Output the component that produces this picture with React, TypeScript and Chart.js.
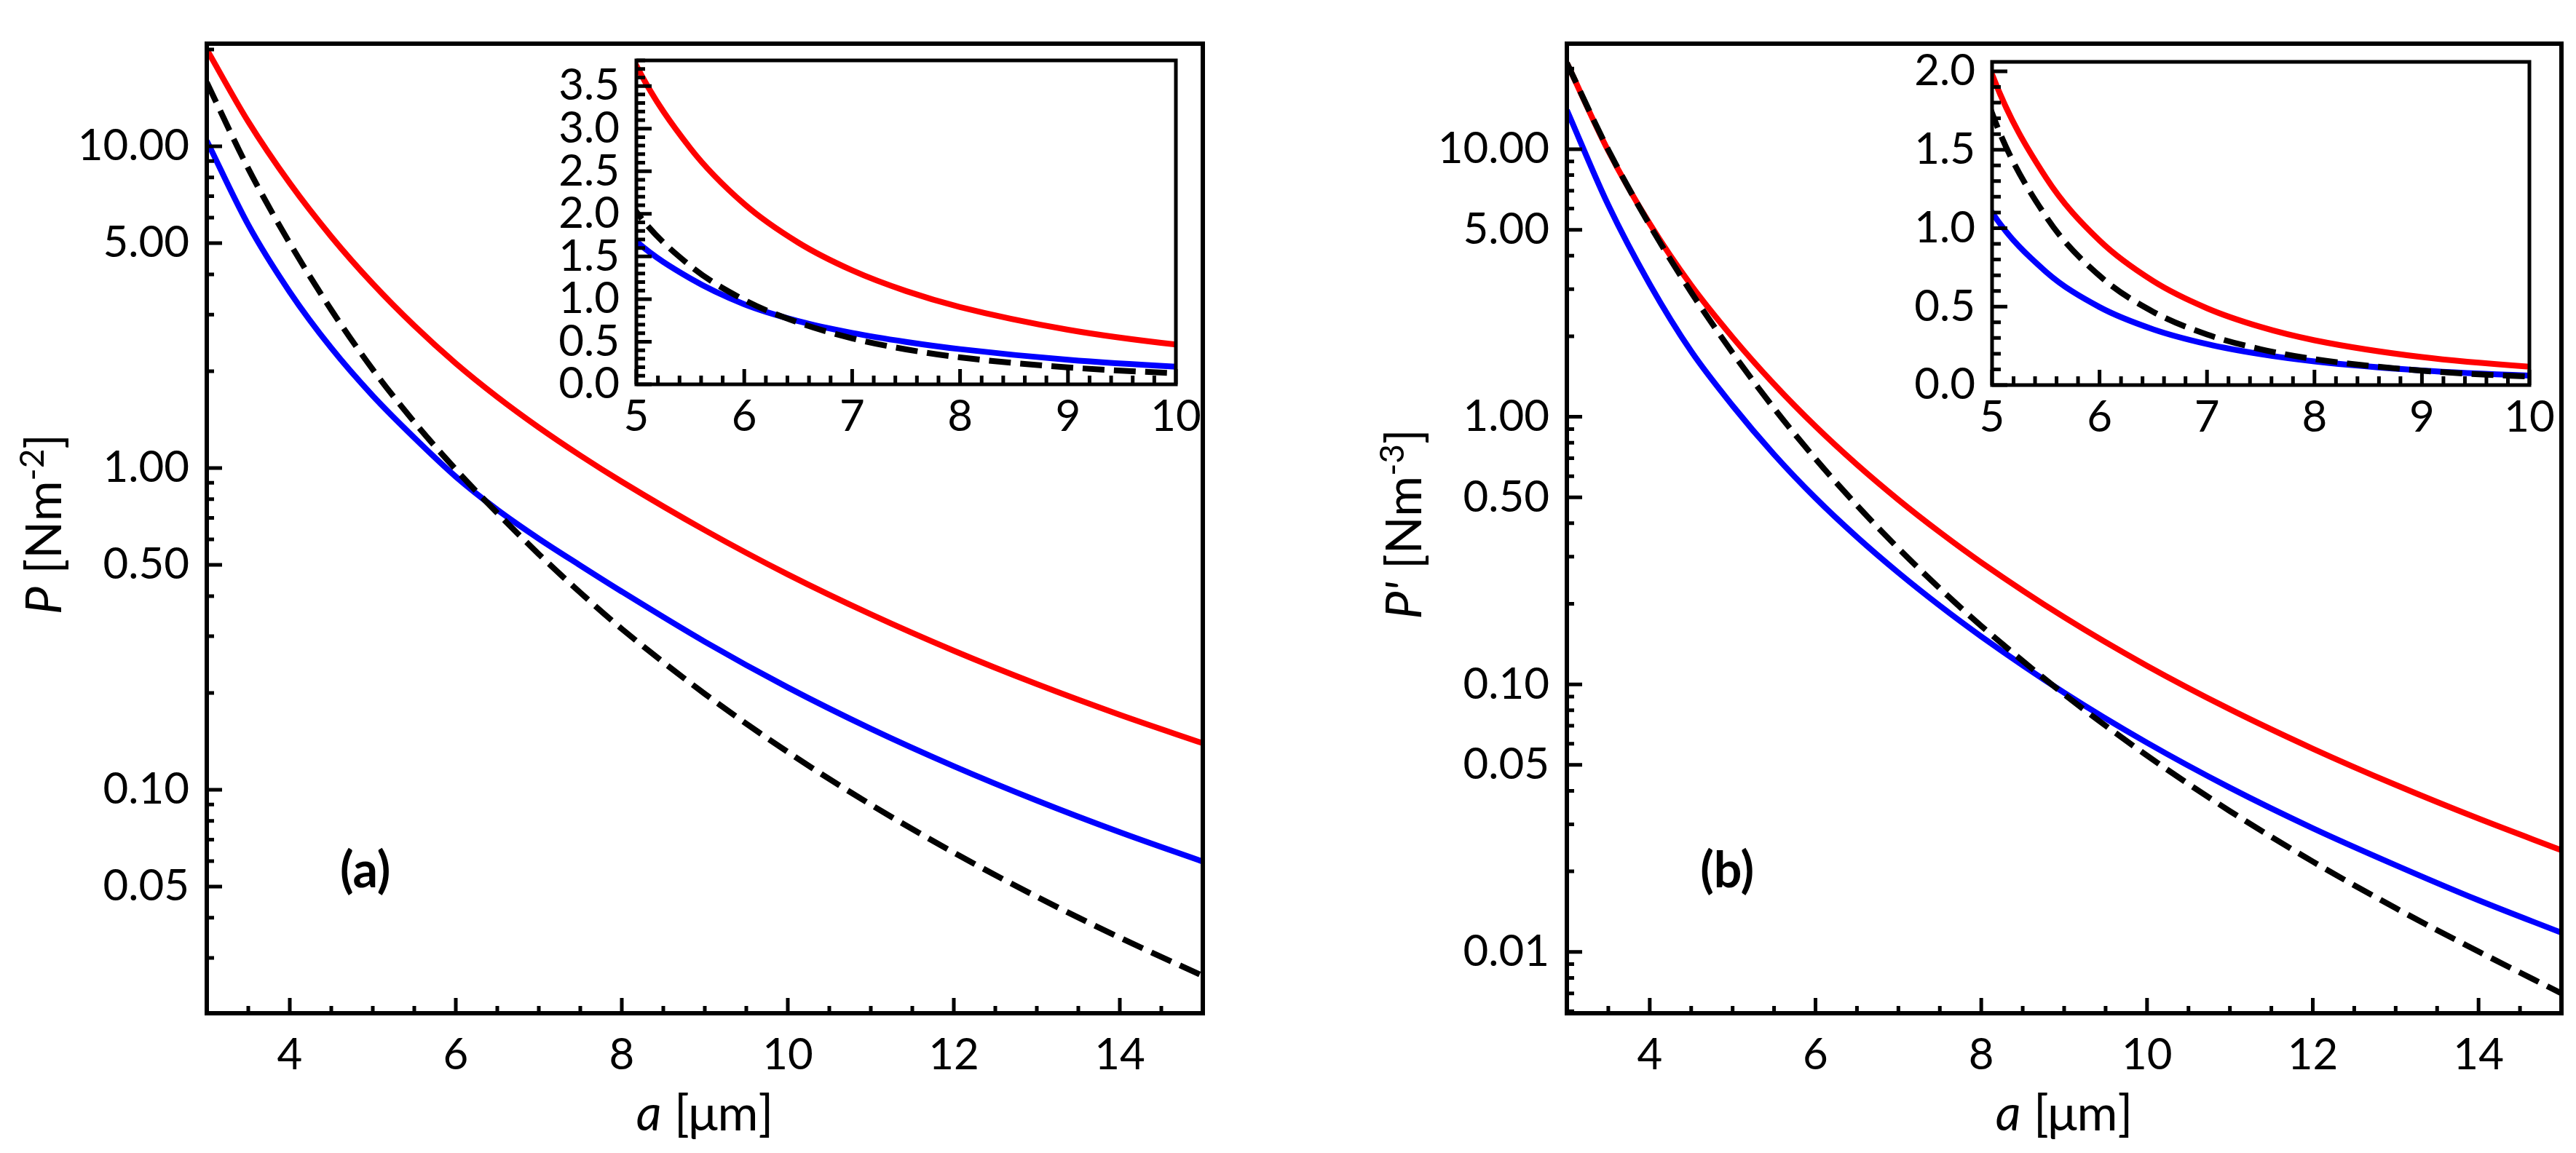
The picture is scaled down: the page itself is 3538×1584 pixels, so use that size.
import React, { useEffect, useRef } from "react";
import { Chart, registerables } from "chart.js";
Chart.register(...registerables);

// ---------- data ----------
const aValues = [3, 3.5, 4, 4.5, 5, 5.5, 6, 6.5, 7, 7.5, 8, 9, 10, 11, 12, 13, 14, 15];

const redA = [20, 11.93, 7.68, 5.24, 3.74, 2.77, 2.115, 1.663, 1.337, 1.094, 0.907, 0.641, 0.467, 0.351, 0.2704, 0.213, 0.171, 0.1395];
const blueA = [10.4, 5.7, 3.525, 2.361, 1.677, 1.242, 0.94, 0.742, 0.603, 0.498, 0.413, 0.2885, 0.208, 0.1548, 0.1184, 0.0926, 0.0738, 0.0598];
const blackA = [15.8, 8.53, 5.0, 3.102, 2.025, 1.39, 0.99, 0.725, 0.54, 0.41, 0.3163, 0.1987, 0.131, 0.0899, 0.0638, 0.0465, 0.0347, 0.0264];

const redB = [21, 9.86, 5.265, 3.1, 1.98, 1.324, 0.921, 0.6625, 0.4896, 0.3703, 0.2855, 0.1782, 0.1173, 0.0807, 0.0575, 0.0421, 0.0315, 0.024];
const blueB = [14.0, 6.18, 3.13, 1.757, 1.1, 0.723, 0.497, 0.3553, 0.2614, 0.1967, 0.151, 0.0931, 0.0605, 0.0411, 0.029, 0.0211, 0.0156, 0.0118];
const blackB = [21, 9.94, 5.2, 2.92, 1.733, 1.076, 0.6966, 0.4668, 0.3222, 0.2283, 0.1653, 0.0918, 0.0542, 0.0336, 0.02176, 0.01458, 0.01003, 0.007];

const mainXTicks = [4, 6, 8, 10, 12, 14];
const yTicksA = [0.05, 0.1, 0.5, 1, 5, 10];
const yTicksB = [0.01, 0.05, 0.1, 0.5, 1, 5, 10];
const insetXTicks = [5, 6, 7, 8, 9, 10];
const insetYTicksA = [0, 0.5, 1, 1.5, 2, 2.5, 3, 3.5];
const insetYTicksB = [0, 0.5, 1, 1.5, 2];

// ---------- helpers ----------
const FONT = "Lato";

function linMinors(min: number, max: number, step: number, majors: number[]) {
  const out: number[] = [];
  const n = Math.round((max - min) / step);
  for (let i = 0; i <= n; i++) {
    const v = Math.round((min + i * step) * 1000) / 1000;
    if (!majors.some((m) => Math.abs(m - v) < 1e-6)) out.push(v);
  }
  return out;
}
function logMinors(min: number, max: number, majors: number[]) {
  const out: number[] = [];
  for (let e = -3; e <= 2; e++) {
    for (let m = 1; m <= 9; m++) {
      const v = m * Math.pow(10, e);
      if (v >= min && v <= max && !majors.some((q) => Math.abs(q - v) / v < 1e-6)) out.push(v);
    }
  }
  return out;
}

type Part = { t: string; font: string; rise: number };
function drawParts(ctx: CanvasRenderingContext2D, parts: Part[], px: number, py: number, rotated: boolean) {
  ctx.save();
  ctx.fillStyle = "#000";
  ctx.textBaseline = "alphabetic";
  ctx.textAlign = "left";
  let total = 0;
  const widths = parts.map((p) => {
    ctx.font = p.font;
    const w = ctx.measureText(p.t).width;
    total += w;
    return w;
  });
  ctx.translate(px, py);
  if (rotated) ctx.rotate(-Math.PI / 2);
  let x = -total / 2;
  parts.forEach((p, i) => {
    ctx.font = p.font;
    ctx.fillText(p.t, x, -p.rise);
    x += widths[i];
  });
  ctx.restore();
}

function makeDatasets(red: number[], blue: number[], black: number[]) {
  const mk = (ys: number[], color: string, dash: number[]) => ({
    data: aValues.map((x, i) => ({ x, y: ys[i] })),
    borderColor: color,
    borderWidth: 8,
    borderDash: dash,
    pointRadius: 0,
    fill: false,
    cubicInterpolationMode: "monotone" as const,
  });
  return [mk(black, "#000000", [30, 13]), mk(blue, "#0000ff", []), mk(red, "#ff0000", [])];
}

type FrameOpts = {
  xMajor: number[];
  xMinor: number[];
  yMajor: number[];
  yMinor: number[];
  majLen: number;
  minLen: number;
  border: number;
  fillWhite: boolean;
  extra?: (chart: any) => void;
};

function framePlugin(o: FrameOpts) {
  return {
    id: "frame",
    beforeDatasetsDraw(chart: any) {
      if (!o.fillWhite) return;
      const { ctx, chartArea: ca } = chart;
      ctx.save();
      ctx.fillStyle = "#fff";
      ctx.fillRect(ca.left, ca.top, ca.right - ca.left, ca.bottom - ca.top);
      ctx.restore();
    },
    afterDraw(chart: any) {
      const { ctx, chartArea: ca, scales } = chart;
      ctx.save();
      ctx.strokeStyle = "#000";
      ctx.lineWidth = 5;
      ctx.lineCap = "butt";
      ctx.beginPath();
      const xt = (v: number, len: number) => {
        const p = scales.x.getPixelForValue(v);
        ctx.moveTo(p, ca.bottom);
        ctx.lineTo(p, ca.bottom - len);
      };
      const yt = (v: number, len: number) => {
        const p = scales.y.getPixelForValue(v);
        ctx.moveTo(ca.left, p);
        ctx.lineTo(ca.left + len, p);
      };
      o.xMajor.forEach((v) => xt(v, o.majLen));
      o.xMinor.forEach((v) => xt(v, o.minLen));
      o.yMajor.forEach((v) => yt(v, o.majLen));
      o.yMinor.forEach((v) => yt(v, o.minLen));
      ctx.stroke();
      ctx.lineWidth = o.border;
      ctx.strokeRect(ca.left, ca.top, ca.right - ca.left, ca.bottom - ca.top);
      ctx.restore();
      if (o.extra) o.extra(chart);
    },
  };
}

function mainConfig(
  red: number[], blue: number[], black: number[],
  yMin: number, yMax: number, yTicks: number[], yWidth: number, padRight: number,
  yTitle: Part[], panel: string, panelX: number, panelY: number
) {
  return {
    type: "line" as const,
    data: { datasets: makeDatasets(red, blue, black) },
    options: {
      responsive: false,
      animation: false as const,
      devicePixelRatio: 1,
      events: [],
      layout: { padding: { top: 29, left: 0, right: padRight, bottom: 0 } },
      plugins: { legend: { display: false }, tooltip: { enabled: false }, title: { display: false } },
      scales: {
        x: {
          type: "linear" as const,
          min: 3,
          max: 15,
          grid: { display: false, drawTicks: false },
          border: { display: false },
          afterBuildTicks: (s: any) => {
            s.ticks = mainXTicks.map((v) => ({ value: v }));
          },
          afterFit: (s: any) => {
            s.height = 192;
          },
          ticks: {
            font: { size: 60, family: FONT },
            color: "#000",
            padding: 22,
            maxRotation: 0,
            minRotation: 0,
            autoSkip: false,
            callback: (v: any) => String(v),
          },
        },
        y: {
          type: "logarithmic" as const,
          min: yMin,
          max: yMax,
          grid: { display: false, drawTicks: false },
          border: { display: false },
          afterBuildTicks: (s: any) => {
            s.ticks = yTicks.map((v) => ({ value: v }));
          },
          afterFit: (s: any) => {
            s.width = yWidth;
          },
          ticks: {
            font: { size: 60, family: FONT },
            color: "#000",
            padding: 24,
            autoSkip: false,
            callback: (v: any) => Number(v).toFixed(2),
          },
        },
      },
    },
    plugins: [
      framePlugin({
        xMajor: mainXTicks,
        xMinor: linMinors(3.5, 14.5, 0.5, mainXTicks),
        yMajor: yTicks,
        yMinor: logMinors(yMin, yMax, yTicks),
        majLen: 21,
        minLen: 10,
        border: 6,
        fillWhite: false,
        extra: (chart: any) => {
          const { ctx, chartArea: ca, scales } = chart;
          drawParts(ctx, yTitle, ca.left - 200, 720, true);
          drawParts(
            ctx,
            [
              { t: "a", font: `italic 68px ${FONT}`, rise: 0 },
              { t: " [μm]", font: `68px ${FONT}`, rise: 0 },
            ],
            (ca.left + ca.right) / 2,
            1553,
            false
          );
          ctx.save();
          ctx.fillStyle = "#000";
          ctx.font = `bold 68px ${FONT}`;
          ctx.textAlign = "center";
          ctx.textBaseline = "alphabetic";
          ctx.fillText(panel, scales.x.getPixelForValue(panelX), scales.y.getPixelForValue(panelY));
          ctx.restore();
        },
      }),
    ],
  };
}

function insetConfig(red: number[], blue: number[], black: number[], yMax: number, yTicks: number[], padRight: number, xHeight: number) {
  return {
    type: "line" as const,
    data: { datasets: makeDatasets(red, blue, black) },
    options: {
      responsive: false,
      animation: false as const,
      devicePixelRatio: 1,
      events: [],
      layout: { padding: { top: 40, left: 0, right: padRight, bottom: 0 } },
      plugins: { legend: { display: false }, tooltip: { enabled: false }, title: { display: false } },
      scales: {
        x: {
          type: "linear" as const,
          min: 5,
          max: 10,
          grid: { display: false, drawTicks: false },
          border: { display: false },
          afterBuildTicks: (s: any) => {
            s.ticks = insetXTicks.map((v) => ({ value: v }));
          },
          afterFit: (s: any) => {
            s.height = xHeight;
          },
          ticks: {
            font: { size: 60, family: FONT },
            color: "#000",
            padding: 9,
            maxRotation: 0,
            minRotation: 0,
            autoSkip: false,
            callback: (v: any) => String(v),
          },
        },
        y: {
          type: "linear" as const,
          min: 0,
          max: yMax,
          grid: { display: false, drawTicks: false },
          border: { display: false },
          afterBuildTicks: (s: any) => {
            s.ticks = yTicks.map((v) => ({ value: v }));
          },
          afterFit: (s: any) => {
            s.width = 120;
          },
          ticks: {
            font: { size: 60, family: FONT },
            color: "#000",
            padding: 23,
            autoSkip: false,
            callback: (v: any) => Number(v).toFixed(1),
          },
        },
      },
    },
    plugins: [
      framePlugin({
        xMajor: insetXTicks,
        xMinor: linMinors(5, 10, 0.2, insetXTicks),
        yMajor: yTicks,
        yMinor: linMinors(0, Math.floor(yMax * 10) / 10, 0.1, yTicks),
        majLen: 21,
        minLen: 12,
        border: 5,
        fillWhite: true,
      }),
    ],
  };
}

export default function App() {
  const refA = useRef<HTMLCanvasElement>(null);
  const refB = useRef<HTMLCanvasElement>(null);
  const refIA = useRef<HTMLCanvasElement>(null);
  const refIB = useRef<HTMLCanvasElement>(null);

  useEffect(() => {
    document.body.style.margin = "0";
    Chart.defaults.font.family = FONT;
    Chart.defaults.color = "#000";
    const yTitleA: Part[] = [
      { t: "P", font: `italic 68px ${FONT}`, rise: 0 },
      { t: " [Nm", font: `68px ${FONT}`, rise: 0 },
      { t: "-2", font: `46px ${FONT}`, rise: 24 },
      { t: "]", font: `68px ${FONT}`, rise: 0 },
    ];
    const yTitleB: Part[] = [
      { t: "P'", font: `italic 68px ${FONT}`, rise: 0 },
      { t: " [Nm", font: `68px ${FONT}`, rise: 0 },
      { t: "-3", font: `46px ${FONT}`, rise: 24 },
      { t: "]", font: `68px ${FONT}`, rise: 0 },
    ];
    const charts: Chart[] = [];
    charts.push(new Chart(refA.current as any, mainConfig(redA, blueA, blackA, 0.0202, 20.85, yTicksA, 284, 68, yTitleA, "(a)", 4.91, 0.0497) as any));
    charts.push(new Chart(refB.current as any, mainConfig(redB, blueB, blackB, 0.0059, 24.8, yTicksB, 432, 20, yTitleB, "(b)", 4.934, 0.01746) as any));
    charts.push(new Chart(refIA.current as any, insetConfig(redA, blueA, blackA, 3.8, insetYTicksA, 59, 136) as any));
    charts.push(new Chart(refIB.current as any, insetConfig(redB, blueB, blackB, 2.06, insetYTicksB, 62, 137) as any));
    return () => charts.forEach((c) => c.destroy());
  }, []);

  const cv = (left: number, top: number, w: number, h: number): React.CSSProperties => ({
    position: "absolute",
    left,
    top,
    width: w,
    height: h,
  });

  return (
    <div style={{ position: "relative", width: 3538, height: 1584, background: "#fff", overflow: "hidden" }}>
      <canvas ref={refA} width={1720} height={1584} style={cv(0, 0, 1720, 1584)} />
      <canvas ref={refB} width={1818} height={1584} style={cv(1720, 0, 1818, 1584)} />
      <canvas ref={refIA} width={920} height={640} style={cv(754, 24, 920, 640)} />
      <canvas ref={refIB} width={920} height={640} style={cv(2616, 26, 920, 640)} />
    </div>
  );
}
